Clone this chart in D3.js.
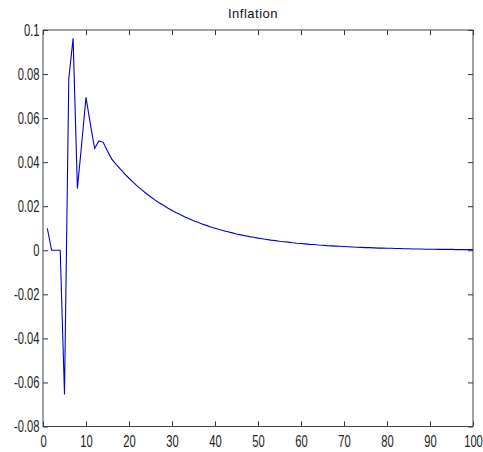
<!DOCTYPE html>
<html>
<head>
<meta charset="utf-8">
<script src="https://cdn.jsdelivr.net/npm/d3@7"></script>
<style>
  body { margin: 0; background: #fff; }
  .tick text { font-family: "Liberation Sans", Arial, sans-serif; font-size: 16px; fill: #222; }
</style>
</head>
<body>
<div id="chart"></div>
<script>
var svgWidth = 483;
var svgHeight = 452;

var margin = { top: 30, right: 10, bottom: 25.5, left: 43 };
var width = svgWidth - margin.left - margin.right;
var height = svgHeight - margin.top - margin.bottom;

// periods 1..100
var periods = d3.range(1, 101);

// inflation response
var inflation = [
  0.0100, 0.0000, 0.0000, 0.0000, -0.0655, 0.0780, 0.0962, 0.0280, 0.0485, 0.0694,
  0.0575, 0.0462, 0.0496, 0.0490, 0.0450, 0.0414, 0.0390, 0.0368, 0.0347, 0.0327,
  0.0308, 0.0290, 0.0274, 0.0258, 0.0243, 0.0229, 0.0216, 0.0204, 0.0192, 0.0181,
  0.0170, 0.0161, 0.0151, 0.0143, 0.0134, 0.0127, 0.0119, 0.0113, 0.0106, 0.0100,
  0.0094, 0.0089, 0.0084, 0.0079, 0.0074, 0.0070, 0.0066, 0.0062, 0.0059, 0.0055,
  0.0052, 0.0049, 0.0046, 0.0044, 0.0041, 0.0039, 0.0037, 0.0034, 0.0032, 0.0031,
  0.0029, 0.0027, 0.0026, 0.0024, 0.0023, 0.0021, 0.0020, 0.0019, 0.0018, 0.0017,
  0.0016, 0.0015, 0.0014, 0.0013, 0.0012, 0.0012, 0.0011, 0.0010, 0.0010, 0.0009,
  0.0009, 0.0008, 0.0008, 0.0007, 0.0007, 0.0006, 0.0006, 0.0006, 0.0005, 0.0005,
  0.0005, 0.0004, 0.0004, 0.0004, 0.0004, 0.0003, 0.0003, 0.0003, 0.0003, 0.0003
];

var xTicks = [0, 10, 20, 30, 40, 50, 60, 70, 80, 90, 100];
var yTicks = [-0.08, -0.06, -0.04, -0.02, 0, 0.02, 0.04, 0.06, 0.08, 0.1];

var svg = d3.select("#chart")
  .append("svg")
  .attr("width", svgWidth)
  .attr("height", svgHeight);

var chartGroup = svg.append("g")
  .attr("transform", `translate(${margin.left}, ${margin.top})`);

var xScale = d3.scaleLinear().domain([0, 100]).range([0, width]);
var yScale = d3.scaleLinear().domain([-0.08, 0.1]).range([height, 0]);

var fmt = function(d) { return String(+d.toFixed(2)); };

// squeeze tick labels sideways, the matlab font is very narrow
var squeeze = 0.7;

// axes, ticks pointing inward like matlab
var bottomAxis = d3.axisBottom(xScale).tickValues(xTicks).tickSize(-5).tickSizeOuter(0).tickFormat(fmt);
var topAxis = d3.axisTop(xScale).tickValues(xTicks).tickSize(-5).tickSizeOuter(0).tickFormat("");
var leftAxis = d3.axisLeft(yScale).tickValues(yTicks).tickSize(-5).tickSizeOuter(0).tickFormat(fmt);
var rightAxis = d3.axisRight(yScale).tickValues(yTicks).tickSize(-5).tickSizeOuter(0).tickFormat("");

var gb = chartGroup.append("g").attr("transform", `translate(0, ${height})`).call(bottomAxis);
gb.selectAll(".tick text")
  .attr("y", 20.5)
  .attr("dy", 0)
  .attr("transform", `scale(${squeeze}, 1)`);

chartGroup.append("g").call(topAxis);

var gl = chartGroup.append("g").call(leftAxis);
gl.selectAll(".tick text")
  .attr("x", -3.5 / squeeze)
  .attr("dy", "0.34em")
  .attr("transform", `scale(${squeeze}, 1)`);

chartGroup.append("g").attr("transform", `translate(${width}, 0)`).call(rightAxis);

chartGroup.selectAll(".domain").remove();
chartGroup.selectAll(".tick line").attr("stroke", "#333");

// box
chartGroup.append("rect")
  .attr("x", 0)
  .attr("y", 0)
  .attr("width", width)
  .attr("height", height)
  .attr("fill", "none")
  .attr("stroke", "#444")
  .attr("stroke-width", 1);

// the line
var line = d3.line()
  .x(function(d, i) { return xScale(periods[i]); })
  .y(function(d) { return yScale(d); });

chartGroup.append("path")
  .datum(inflation)
  .attr("d", line)
  .attr("fill", "none")
  .attr("stroke", "#0000d0")
  .attr("stroke-width", 1.1);

// title
chartGroup.append("text")
  .attr("x", width / 2 - 5)
  .attr("y", -11.7)
  .attr("text-anchor", "middle")
  .attr("font-family", "Liberation Sans, Arial, sans-serif")
  .attr("font-size", "13px")
  .attr("letter-spacing", "0.5px")
  .attr("fill", "#111")
  .text("Inflation");
</script>
</body>
</html>
